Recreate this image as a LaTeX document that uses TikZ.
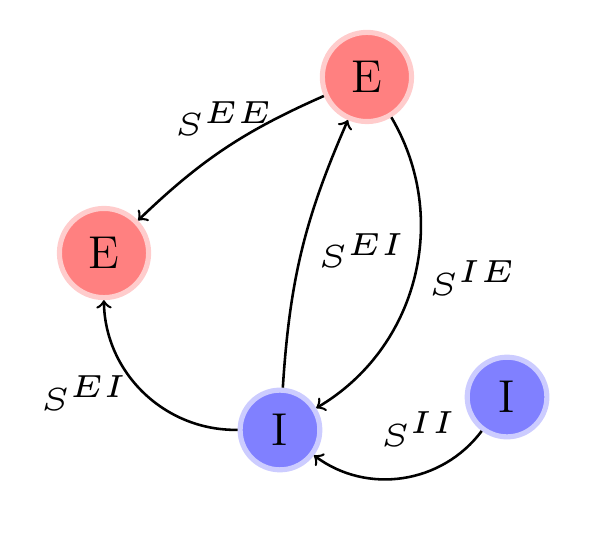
\documentclass[tikz,border=0pt]{standalone}
\begin{document}
\begin{tikzpicture}[
			exc/.style={circle, fill=red!50, draw=red!20, ultra thick, inner sep=5pt, font=\Large},
			inh/.style={circle, fill=blue!50, draw=blue!20, ultra thick, inner sep=5pt, font=\Large},
			lbl/.style={font=\tiny, scale=2, inner sep=1.6pt},
			syn/.style={->, thick}
		]
		\useasboundingbox (0,0) rectangle (6.5,5.874);

		\node[exc] (e1) at (4.029,5.029) {E};
		\node[exc] (e2) at (1.142,3.096) {E};
		\node[inh] (i1) at (3.074,1.153) {I};
		\node[inh] (i2) at (5.567,1.515) {I};

		\draw[syn] (e1) to[bend right=10] node[lbl, midway, above] {$S^{EE}$} (e2);
		\draw[syn] (i1) to[bend left=10] node[lbl, midway, right=0.2mm] {$S^{EI}$} (e1);
		\draw[syn] (e1) to[bend left=45] node[lbl, midway, right=0.1mm] {$S^{IE}$} (i1);
		\draw[syn] (i1) to[bend left=45] node[lbl, midway, left=0.1mm] {$S^{EI}$} (e2);
		\draw[syn] (i2) to[bend left=45] node[lbl, midway, above=1mm, xshift=0.9mm] {$S^{II}$} (i1);
	\end{tikzpicture}
\end{document}
